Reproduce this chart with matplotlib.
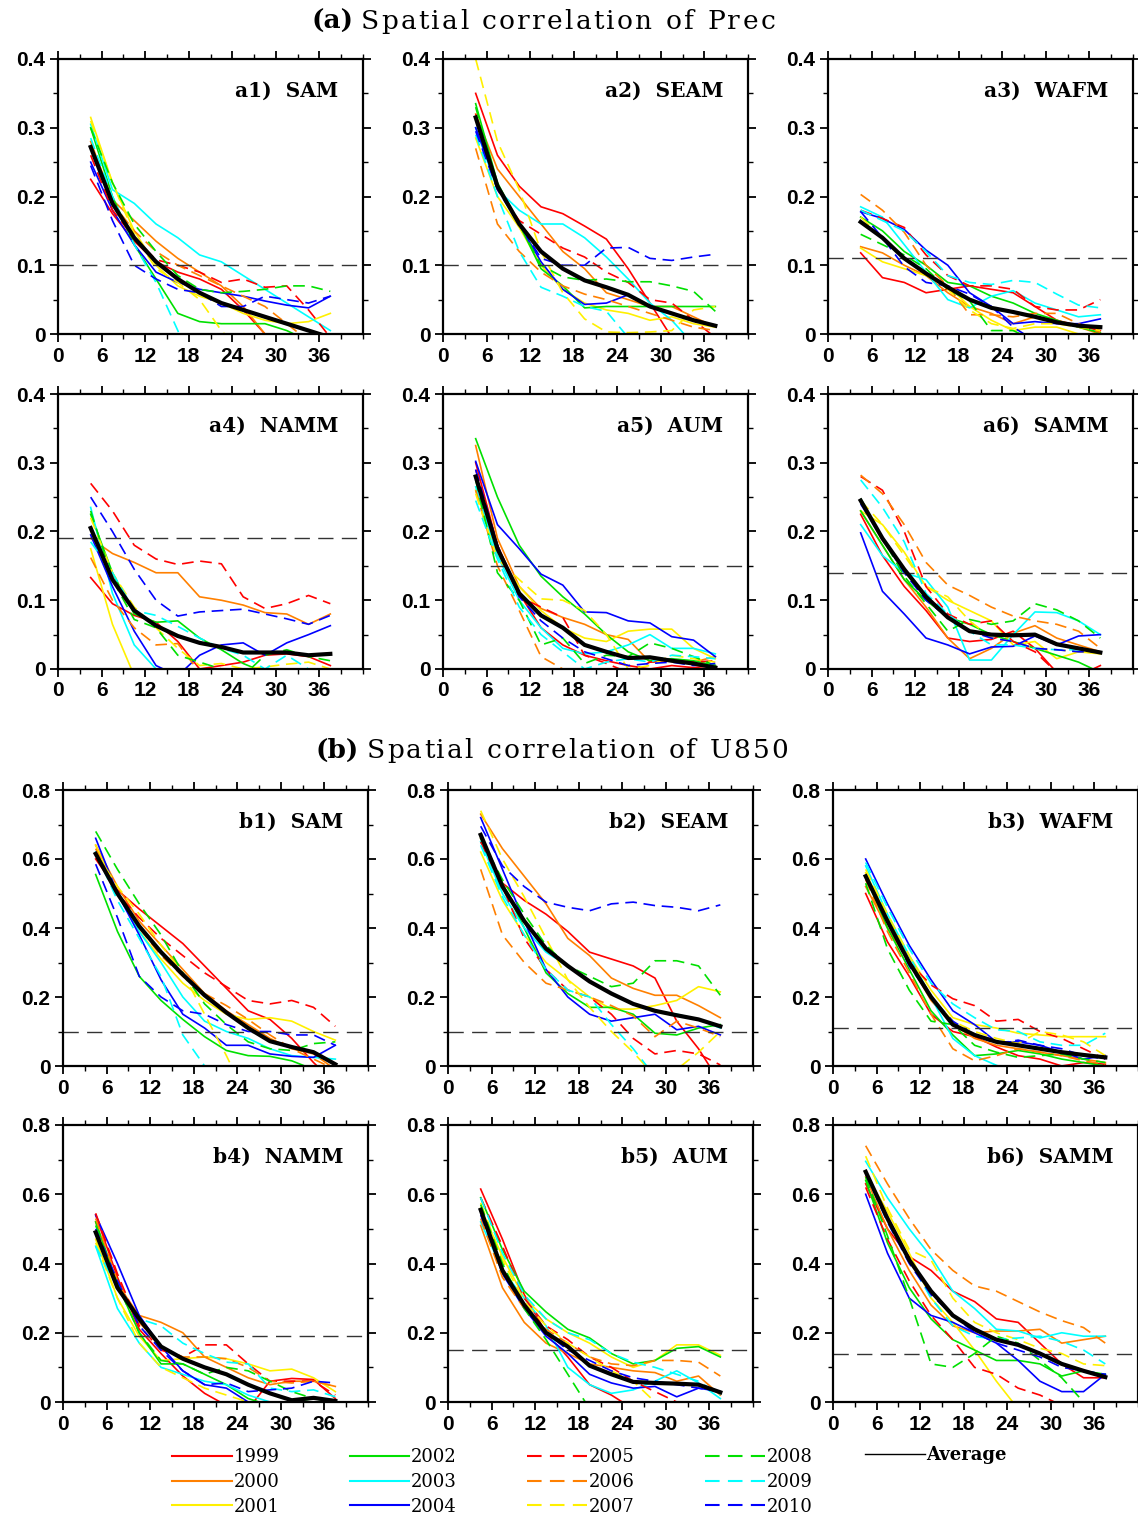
import numpy as np
import matplotlib
matplotlib.use('Agg')
import matplotlib.pyplot as plt
from matplotlib.lines import Line2D
from matplotlib.ticker import MultipleLocator

# lead time (days), same for every panel
lead = [4.5, 7.5, 10.5, 13.5, 16.5, 19.5, 22.5, 25.5, 28.5, 31.5, 34.5, 37.5]

years = ['1999', '2000', '2001', '2002', '2003', '2004',
         '2005', '2006', '2007', '2008', '2009', '2010']
colors = ['#ff0000', '#ff8000', '#fff000', '#00e000', '#00ffff', '#0000ff'] * 2
styles = ['-'] * 6 + ['--'] * 6

# ---- (a) precipitation, rows in the order of `years` ----
prec_sam = [
    [0.225, 0.175, 0.135, 0.105, 0.09, 0.08, 0.065, 0.035, 0.0, -0.02, -0.04, -0.06],
    [0.28, 0.195, 0.165, 0.135, 0.11, 0.09, 0.07, 0.04, 0.0, -0.02, -0.04, -0.05],
    [0.315, 0.22, 0.15, 0.1, 0.07, 0.055, 0.045, 0.03, 0.02, 0.015, 0.018, 0.03],
    [0.3, 0.2, 0.13, 0.08, 0.03, 0.018, 0.015, 0.015, 0.015, 0.005, -0.01, -0.02],
    [0.305, 0.21, 0.19, 0.16, 0.14, 0.115, 0.105, 0.085, 0.065, 0.045, 0.025, 0.005],
    [0.25, 0.18, 0.13, 0.09, 0.075, 0.065, 0.06, 0.055, 0.048, 0.042, 0.038, 0.055],
    [0.26, 0.18, 0.14, 0.108, 0.1, 0.09, 0.075, 0.08, 0.068, 0.07, 0.035, -0.005],
    [0.27, 0.19, 0.15, 0.12, 0.1, 0.085, 0.07, 0.055, 0.04, 0.015, -0.01, -0.03],
    [0.31, 0.22, 0.145, 0.095, 0.075, 0.05, 0.005, -0.03, -0.05, -0.06, -0.07, -0.08],
    [0.3, 0.22, 0.16, 0.12, 0.085, 0.065, 0.06, 0.062, 0.065, 0.07, 0.07, 0.062],
    [0.285, 0.2, 0.13, 0.075, 0.005, -0.07, -0.1, -0.1, -0.1, -0.1, -0.1, -0.1],
    [0.245, 0.165, 0.1, 0.08, 0.065, 0.06, 0.04, 0.04, 0.055, 0.05, 0.045, 0.055],
]
prec_sam_avg = [0.272, 0.19, 0.14, 0.105, 0.08, 0.06, 0.045, 0.035, 0.025, 0.015, 0.005, -0.005]

prec_seam = [
    [0.35, 0.26, 0.215, 0.185, 0.175, 0.157, 0.138, 0.095, 0.045, -0.005, -0.05, -0.08],
    [0.32, 0.24, 0.2, 0.16, 0.12, 0.095, 0.06, 0.05, 0.04, 0.04, 0.025, 0.01],
    [0.285, 0.2, 0.155, 0.1, 0.065, 0.045, 0.035, 0.03, 0.02, 0.025, 0.015, 0.01],
    [0.335, 0.22, 0.16, 0.095, 0.07, 0.038, 0.04, 0.04, 0.04, 0.04, 0.04, 0.04],
    [0.3, 0.21, 0.18, 0.16, 0.16, 0.14, 0.112, 0.08, 0.045, 0.02, -0.015, -0.03],
    [0.3, 0.215, 0.16, 0.105, 0.065, 0.043, 0.045, 0.057, 0.04, 0.03, 0.02, 0.012],
    [0.32, 0.21, 0.165, 0.145, 0.125, 0.112, 0.09, 0.075, 0.05, 0.045, 0.02, -0.005],
    [0.27, 0.16, 0.12, 0.09, 0.07, 0.058, 0.05, 0.04, 0.03, 0.02, 0.01, 0.005],
    [0.4, 0.28, 0.21, 0.12, 0.06, 0.022, 0.003, 0.002, 0.003, 0.005, 0.035, 0.04],
    [0.33, 0.215, 0.16, 0.1, 0.083, 0.078, 0.08, 0.076, 0.076, 0.07, 0.062, 0.033],
    [0.29, 0.2, 0.12, 0.068, 0.055, 0.04, 0.033, -0.005, -0.03, -0.04, -0.05, -0.05],
    [0.295, 0.21, 0.16, 0.11, 0.1, 0.1, 0.125, 0.126, 0.11, 0.107, 0.112, 0.116],
]
prec_seam_avg = [0.315, 0.215, 0.16, 0.12, 0.095, 0.078, 0.068, 0.057, 0.04, 0.03, 0.02, 0.012]

prec_wafm = [
    [0.118, 0.082, 0.075, 0.06, 0.065, 0.07, 0.065, 0.06, 0.04, 0.02, 0.012, 0.005],
    [0.127, 0.118, 0.1, 0.085, 0.06, 0.04, 0.03, 0.015, 0.025, 0.02, 0.01, 0.0],
    [0.125, 0.105, 0.095, 0.085, 0.07, 0.04, 0.02, 0.005, 0.01, 0.01, 0.0, -0.005],
    [0.17, 0.15, 0.12, 0.1, 0.075, 0.07, 0.055, 0.045, 0.03, 0.02, 0.01, 0.002],
    [0.185, 0.17, 0.13, 0.09, 0.05, 0.038, 0.055, 0.063, 0.045, 0.035, 0.025, 0.028],
    [0.178, 0.168, 0.152, 0.122, 0.1, 0.06, 0.04, 0.015, 0.018, 0.015, 0.015, 0.022],
    [0.18, 0.168, 0.155, 0.115, 0.085, 0.07, 0.07, 0.065, 0.04, 0.035, 0.035, 0.05],
    [0.203, 0.18, 0.148, 0.1, 0.07, 0.028, 0.028, 0.025, 0.03, 0.03, 0.015, 0.002],
    [0.17, 0.14, 0.11, 0.09, 0.065, 0.035, 0.015, 0.008, 0.015, 0.015, 0.01, 0.005],
    [0.145, 0.13, 0.115, 0.095, 0.065, 0.048, 0.005, 0.005, -0.01, -0.02, -0.02, -0.02],
    [0.18, 0.165, 0.15, 0.12, 0.085, 0.075, 0.072, 0.078, 0.075, 0.058, 0.042, 0.038],
    [0.178, 0.14, 0.098, 0.075, 0.07, 0.058, 0.04, 0.01, -0.01, -0.02, -0.02, -0.02],
]
prec_wafm_avg = [0.163, 0.14, 0.11, 0.088, 0.068, 0.05, 0.038, 0.032, 0.025, 0.017, 0.012, 0.01]

prec_namm = [
    [0.133, 0.095, 0.078, 0.068, 0.04, 0.0, 0.005, 0.01, 0.02, 0.022, 0.018, 0.005],
    [0.19, 0.168, 0.155, 0.14, 0.14, 0.105, 0.1, 0.093, 0.082, 0.08, 0.065, 0.08],
    [0.175, 0.065, -0.01, -0.05, -0.06, -0.06, -0.06, -0.06, -0.06, -0.06, -0.06, -0.06],
    [0.225, 0.14, 0.08, 0.068, 0.07, 0.045, 0.028, 0.008, -0.005, -0.01, -0.01, -0.01],
    [0.235, 0.11, 0.035, 0.0, -0.03, -0.04, -0.04, -0.04, -0.04, -0.04, -0.04, -0.04],
    [0.195, 0.12, 0.055, 0.005, -0.01, 0.02, 0.035, 0.038, 0.02, 0.038, 0.05, 0.063],
    [0.27, 0.23, 0.18, 0.16, 0.152, 0.157, 0.153, 0.105, 0.088, 0.095, 0.107, 0.095],
    [0.162, 0.1, 0.06, 0.035, 0.037, -0.005, -0.02, -0.02, -0.02, -0.02, -0.02, -0.02],
    [0.22, 0.14, 0.09, 0.06, 0.03, 0.005, 0.008, 0.0, 0.003, 0.007, 0.01, 0.0],
    [0.23, 0.13, 0.072, 0.06, 0.02, 0.01, 0.0, -0.01, 0.02, 0.028, 0.018, 0.012],
    [0.185, 0.14, 0.085, 0.078, 0.062, 0.045, 0.03, 0.02, 0.0, 0.02, 0.0, -0.01],
    [0.25, 0.2, 0.145, 0.1, 0.077, 0.083, 0.085, 0.087, 0.08, 0.073, 0.065, 0.078],
]
prec_namm_avg = [0.205, 0.13, 0.085, 0.063, 0.048, 0.038, 0.032, 0.024, 0.024, 0.024, 0.02, 0.022]

prec_aum = [
    [0.3, 0.18, 0.11, 0.06, 0.035, 0.02, 0.012, 0.005, 0.0, 0.005, 0.002, 0.005],
    [0.325, 0.19, 0.12, 0.088, 0.075, 0.065, 0.05, 0.043, 0.01, 0.012, 0.01, 0.018],
    [0.26, 0.165, 0.12, 0.085, 0.06, 0.045, 0.04, 0.055, 0.058, 0.058, 0.03, 0.015],
    [0.335, 0.25, 0.18, 0.135, 0.105, 0.08, 0.05, 0.025, 0.012, 0.015, 0.012, 0.005],
    [0.265, 0.165, 0.1, 0.06, 0.03, 0.022, 0.025, 0.035, 0.05, 0.03, 0.03, 0.022],
    [0.302, 0.21, 0.175, 0.138, 0.122, 0.083, 0.082, 0.07, 0.067, 0.047, 0.042, 0.018],
    [0.29, 0.18, 0.105, 0.09, 0.075, 0.02, 0.008, -0.005, 0.01, 0.012, 0.01, 0.012],
    [0.26, 0.15, 0.085, 0.018, 0.0, -0.02, -0.03, -0.03, -0.03, -0.03, -0.03, -0.03],
    [0.255, 0.16, 0.13, 0.102, 0.1, 0.085, 0.05, 0.0, 0.005, 0.02, 0.015, 0.01],
    [0.275, 0.14, 0.1, 0.035, 0.045, 0.008, 0.02, 0.018, 0.038, 0.03, 0.018, 0.005],
    [0.245, 0.16, 0.09, 0.05, 0.025, 0.0, 0.01, 0.015, 0.01, 0.02, 0.018, 0.015],
    [0.29, 0.18, 0.105, 0.07, 0.045, 0.025, 0.015, 0.005, 0.008, 0.01, 0.005, 0.008],
]
prec_aum_avg = [0.28, 0.175, 0.11, 0.078, 0.06, 0.035, 0.025, 0.016, 0.017, 0.012, 0.008, 0.002]

prec_samm = [
    [0.225, 0.165, 0.12, 0.085, 0.045, 0.04, 0.043, 0.055, 0.03, -0.005, -0.01, 0.005],
    [0.23, 0.18, 0.13, 0.09, 0.045, 0.015, 0.03, 0.052, 0.063, 0.045, 0.035, 0.025],
    [0.23, 0.21, 0.17, 0.12, 0.1, 0.085, 0.07, 0.035, 0.04, 0.015, 0.025, 0.022],
    [0.23, 0.18, 0.13, 0.1, 0.075, 0.065, 0.05, 0.04, 0.03, 0.02, 0.01, -0.005],
    [0.21, 0.165, 0.14, 0.13, 0.09, 0.013, 0.013, 0.05, 0.083, 0.082, 0.07, 0.05],
    [0.198, 0.113, 0.08, 0.045, 0.035, 0.022, 0.032, 0.033, 0.048, 0.035, 0.048, 0.05],
    [0.28, 0.26, 0.2, 0.12, 0.08, 0.065, 0.07, 0.04, 0.025, -0.005, -0.01, -0.01],
    [0.282, 0.255, 0.21, 0.155, 0.122, 0.107, 0.09, 0.077, 0.07, 0.065, 0.055, 0.03],
    [0.245, 0.21, 0.165, 0.12, 0.105, 0.07, 0.045, 0.04, 0.03, 0.028, 0.025, 0.025],
    [0.248, 0.19, 0.135, 0.095, 0.055, 0.072, 0.065, 0.07, 0.095, 0.086, 0.07, 0.045],
    [0.275, 0.235, 0.185, 0.11, 0.08, 0.055, 0.035, 0.035, 0.03, 0.028, 0.028, 0.025],
    [0.24, 0.19, 0.14, 0.1, 0.075, 0.055, 0.045, 0.04, 0.03, 0.028, 0.025, 0.025],
]
prec_samm_avg = [0.245, 0.19, 0.145, 0.105, 0.075, 0.055, 0.05, 0.049, 0.05, 0.036, 0.03, 0.024]

# ---- (b) U850 ----
u850_sam = [
    [0.6, 0.51, 0.455, 0.405, 0.355, 0.29, 0.225, 0.16, 0.135, 0.08, 0.01, -0.05],
    [0.64, 0.52, 0.42, 0.35, 0.28, 0.21, 0.16, 0.12, 0.08, 0.05, 0.035, -0.01],
    [0.64, 0.5, 0.39, 0.31, 0.24, 0.19, 0.15, 0.135, 0.14, 0.13, 0.1, 0.075],
    [0.555, 0.39, 0.26, 0.19, 0.135, 0.085, 0.045, 0.03, 0.028, 0.015, -0.01, -0.03],
    [0.62, 0.5, 0.39, 0.3, 0.2, 0.13, 0.1, 0.08, 0.05, 0.03, 0.025, 0.02],
    [0.66, 0.5, 0.38, 0.25, 0.15, 0.11, 0.06, 0.06, 0.035, 0.028, 0.025, 0.06],
    [0.62, 0.5, 0.43, 0.37, 0.32, 0.27, 0.23, 0.19, 0.18, 0.19, 0.17, 0.115],
    [0.63, 0.5, 0.4, 0.32, 0.26, 0.21, 0.175, 0.135, 0.09, 0.05, 0.02, -0.01],
    [0.62, 0.52, 0.44, 0.35, 0.27, 0.15, 0.03, -0.1, -0.1, -0.1, -0.1, -0.1],
    [0.68, 0.57, 0.47, 0.38, 0.27, 0.18, 0.12, 0.07, 0.05, 0.045, 0.065, 0.07],
    [0.62, 0.48, 0.37, 0.26, 0.09, 0.0, -0.08, -0.1, -0.1, -0.1, -0.1, -0.1],
    [0.585, 0.43, 0.26, 0.2, 0.16, 0.15, 0.12, 0.1, 0.1, 0.09, 0.09, 0.06],
]
u850_sam_avg = [0.615, 0.5, 0.405, 0.33, 0.265, 0.205, 0.155, 0.11, 0.072, 0.055, 0.04, 0.005]

u850_seam = [
    [0.66, 0.53, 0.48, 0.44, 0.39, 0.33, 0.31, 0.29, 0.255, 0.13, 0.05, -0.05],
    [0.73, 0.63, 0.55, 0.47, 0.37, 0.32, 0.255, 0.225, 0.205, 0.205, 0.175, 0.14],
    [0.62, 0.48, 0.38, 0.3, 0.25, 0.2, 0.165, 0.165, 0.175, 0.19, 0.23, 0.215],
    [0.66, 0.53, 0.4, 0.27, 0.21, 0.17, 0.17, 0.15, 0.095, 0.09, 0.11, 0.12],
    [0.65, 0.5, 0.4, 0.33, 0.29, 0.245, 0.21, 0.18, 0.16, 0.15, 0.135, 0.11],
    [0.72, 0.57, 0.42, 0.28, 0.2, 0.15, 0.13, 0.14, 0.15, 0.105, 0.115, 0.09],
    [0.65, 0.52, 0.37, 0.28, 0.22, 0.2, 0.15, 0.08, 0.035, 0.045, 0.035, 0.003],
    [0.57, 0.38, 0.3, 0.24, 0.22, 0.2, 0.175, 0.145, 0.085, 0.13, 0.11, 0.085],
    [0.74, 0.6, 0.49, 0.37, 0.25, 0.17, 0.1, 0.04, -0.03, -0.01, 0.04, 0.1],
    [0.66, 0.54, 0.44, 0.35, 0.29, 0.26, 0.23, 0.24, 0.305, 0.305, 0.29, 0.205],
    [0.64, 0.49, 0.38, 0.28, 0.22, 0.2, 0.12, 0.05, -0.03, -0.05, -0.05, -0.05],
    [0.695, 0.58, 0.52, 0.475, 0.46, 0.45, 0.47, 0.475, 0.465, 0.46, 0.45, 0.467],
]
u850_seam_avg = [0.67, 0.52, 0.42, 0.34, 0.29, 0.245, 0.21, 0.18, 0.16, 0.147, 0.135, 0.115]

u850_wafm = [
    [0.5, 0.36, 0.26, 0.15, 0.1, 0.085, 0.055, 0.03, 0.02, 0.0, 0.01, 0.005],
    [0.52, 0.4, 0.3, 0.19, 0.12, 0.08, 0.06, 0.05, 0.04, 0.03, 0.02, 0.01],
    [0.56, 0.43, 0.32, 0.22, 0.14, 0.12, 0.11, 0.095, 0.09, 0.085, 0.085, 0.085],
    [0.55, 0.4, 0.28, 0.16, 0.09, 0.03, 0.035, 0.045, 0.035, 0.02, 0.01, 0.0],
    [0.58, 0.44, 0.32, 0.2, 0.08, 0.03, 0.002, -0.02, -0.03, -0.03, -0.03, -0.03],
    [0.6, 0.47, 0.35, 0.25, 0.16, 0.12, 0.07, 0.07, 0.06, 0.04, 0.02, 0.03],
    [0.55, 0.42, 0.3, 0.235, 0.195, 0.175, 0.13, 0.135, 0.1, 0.08, 0.05, 0.02],
    [0.54, 0.39, 0.27, 0.15, 0.05, 0.015, 0.03, 0.05, 0.04, 0.03, 0.015, 0.005],
    [0.57, 0.44, 0.32, 0.2, 0.13, 0.1, 0.08, 0.065, 0.1, 0.09, 0.07, 0.03],
    [0.53, 0.34, 0.22, 0.13, 0.12, 0.06, 0.04, 0.025, 0.03, 0.035, 0.02, 0.01],
    [0.59, 0.46, 0.34, 0.24, 0.18, 0.14, 0.105, 0.1, 0.07, 0.06, 0.06, 0.095],
    [0.55, 0.42, 0.29, 0.2, 0.13, 0.09, 0.065, 0.075, 0.06, 0.05, 0.03, 0.02],
]
u850_wafm_avg = [0.55, 0.42, 0.3, 0.2, 0.12, 0.09, 0.07, 0.06, 0.05, 0.04, 0.032, 0.025]

u850_namm = [
    [0.54, 0.36, 0.21, 0.14, 0.075, 0.025, -0.01, -0.02, 0.06, 0.068, 0.065, 0.01],
    [0.52, 0.34, 0.25, 0.23, 0.2, 0.13, 0.1, 0.07, 0.05, 0.06, 0.06, 0.045],
    [0.47, 0.3, 0.19, 0.12, 0.125, 0.13, 0.125, 0.11, 0.09, 0.095, 0.07, 0.03],
    [0.52, 0.34, 0.2, 0.11, 0.11, 0.08, 0.05, 0.01, -0.01, 0.0, 0.01, 0.0],
    [0.45, 0.27, 0.17, 0.1, 0.08, 0.06, 0.05, 0.02, 0.0, -0.01, -0.01, -0.01],
    [0.54, 0.4, 0.25, 0.16, 0.09, 0.05, 0.04, 0.0, -0.01, -0.02, -0.02, -0.02],
    [0.545, 0.37, 0.22, 0.15, 0.13, 0.165, 0.165, 0.11, 0.06, 0.06, 0.06, 0.02],
    [0.53, 0.35, 0.23, 0.16, 0.13, 0.13, 0.125, 0.1, 0.06, 0.055, 0.06, 0.045],
    [0.46, 0.3, 0.17, 0.1, 0.07, 0.04, 0.02, 0.0, -0.01, -0.02, -0.02, -0.02],
    [0.51, 0.34, 0.2, 0.12, 0.11, 0.08, 0.1, 0.09, 0.06, 0.03, 0.01, 0.005],
    [0.45, 0.33, 0.24, 0.22, 0.17, 0.14, 0.115, 0.11, 0.04, 0.03, 0.035, 0.015],
    [0.5, 0.35, 0.22, 0.15, 0.09, 0.05, 0.055, 0.03, 0.035, 0.04, 0.06, 0.055],
]
u850_namm_avg = [0.49, 0.33, 0.24, 0.16, 0.125, 0.1, 0.08, 0.05, 0.025, 0.005, 0.012, 0.003]

u850_aum = [
    [0.615, 0.47, 0.31, 0.2, 0.13, 0.05, 0.02, -0.02, -0.04, -0.05, -0.05, -0.05],
    [0.51, 0.33, 0.23, 0.17, 0.14, 0.11, 0.1, 0.09, 0.085, 0.06, 0.075, 0.02],
    [0.56, 0.42, 0.3, 0.24, 0.2, 0.17, 0.13, 0.1, 0.12, 0.165, 0.165, 0.135],
    [0.59, 0.44, 0.32, 0.26, 0.21, 0.185, 0.14, 0.11, 0.12, 0.155, 0.16, 0.13],
    [0.52, 0.38, 0.3, 0.22, 0.1, 0.05, 0.025, 0.035, 0.06, 0.09, 0.055, 0.01],
    [0.55, 0.37, 0.27, 0.19, 0.14, 0.08, 0.055, 0.04, 0.045, 0.015, 0.04, 0.03],
    [0.59, 0.45, 0.3, 0.22, 0.18, 0.13, 0.1, 0.06, 0.03, 0.0, -0.02, -0.03],
    [0.53, 0.36, 0.27, 0.21, 0.17, 0.13, 0.11, 0.105, 0.12, 0.12, 0.115, 0.075],
    [0.575, 0.41, 0.29, 0.22, 0.17, 0.13, 0.09, 0.06, 0.0, -0.03, -0.04, -0.04],
    [0.57, 0.4, 0.27, 0.18, 0.08, -0.02, -0.06, -0.06, -0.06, -0.06, -0.06, -0.06],
    [0.59, 0.43, 0.31, 0.24, 0.2, 0.18, 0.14, 0.115, 0.1, 0.08, 0.06, 0.02],
    [0.54, 0.38, 0.28, 0.2, 0.15, 0.12, 0.09, 0.07, 0.06, 0.05, 0.04, 0.03],
]
u850_aum_avg = [0.555, 0.38, 0.28, 0.2, 0.16, 0.105, 0.08, 0.058, 0.055, 0.053, 0.05, 0.028]

u850_samm = [
    [0.63, 0.5, 0.42, 0.38, 0.32, 0.29, 0.24, 0.23, 0.17, 0.11, 0.07, 0.07],
    [0.65, 0.5, 0.38, 0.28, 0.22, 0.2, 0.205, 0.205, 0.21, 0.17, 0.18, 0.19],
    [0.66, 0.55, 0.43, 0.3, 0.23, 0.15, 0.06, -0.02, -0.04, -0.04, -0.04, -0.04],
    [0.64, 0.46, 0.33, 0.24, 0.18, 0.15, 0.12, 0.12, 0.11, 0.075, 0.09, 0.08],
    [0.695, 0.59, 0.5, 0.42, 0.32, 0.27, 0.21, 0.205, 0.185, 0.2, 0.19, 0.19],
    [0.6, 0.43, 0.3, 0.25, 0.23, 0.2, 0.17, 0.12, 0.06, 0.03, 0.03, 0.08],
    [0.62, 0.47, 0.35, 0.25, 0.18, 0.1, 0.08, 0.04, 0.02, -0.01, -0.02, -0.02],
    [0.74, 0.63, 0.53, 0.44, 0.38, 0.335, 0.32, 0.29, 0.26, 0.235, 0.215, 0.17],
    [0.71, 0.56, 0.44, 0.41, 0.3, 0.23, 0.2, 0.18, 0.155, 0.14, 0.11, 0.105],
    [0.65, 0.48, 0.3, 0.11, 0.1, 0.14, 0.19, 0.17, 0.12, 0.07, 0.0, -0.02],
    [0.66, 0.52, 0.41, 0.3, 0.22, 0.19, 0.18, 0.185, 0.19, 0.175, 0.15, 0.11],
    [0.66, 0.52, 0.4, 0.31, 0.25, 0.2, 0.17, 0.15, 0.13, 0.1, 0.09, 0.08],
]
u850_samm_avg = [0.665, 0.53, 0.41, 0.32, 0.25, 0.21, 0.18, 0.165, 0.14, 0.11, 0.09, 0.072]

# significance level per region
thresh = [0.1, 0.1, 0.11, 0.19, 0.15, 0.14]
regions = ['SAM', 'SEAM', 'WAFM', 'NAMM', 'AUM', 'SAMM']

prec_sets = [(prec_sam, prec_sam_avg), (prec_seam, prec_seam_avg), (prec_wafm, prec_wafm_avg),
             (prec_namm, prec_namm_avg), (prec_aum, prec_aum_avg), (prec_samm, prec_samm_avg)]
u850_sets = [(u850_sam, u850_sam_avg), (u850_seam, u850_seam_avg), (u850_wafm, u850_wafm_avg),
             (u850_namm, u850_namm_avg), (u850_aum, u850_aum_avg), (u850_samm, u850_samm_avg)]

W, H = 1138., 1515.
fig = plt.figure(figsize=(W / 100, H / 100), dpi=100)
renderer = fig.canvas.get_renderer()

tickfont = dict(family='Liberation Sans', weight='bold', size=15)


def make_panel(rect, series, avg, th, label, ymax, ymaj):
    ax = fig.add_axes(rect)
    for row, c, ls in zip(series, colors, styles):
        if ls == '--':
            ax.plot(lead, row, color=c, lw=1.2, dashes=(7, 4))
        else:
            ax.plot(lead, row, color=c, lw=1.2)
    ax.axhline(th, color='#333333', lw=1.0, dashes=(11, 6))
    ax.plot(lead, avg, color='black', lw=3)
    ax.set_xlim(0, 42)
    ax.set_ylim(0, ymax)
    ax.xaxis.set_major_locator(MultipleLocator(6))
    ax.xaxis.set_minor_locator(MultipleLocator(3))
    ax.yaxis.set_major_locator(MultipleLocator(ymaj))
    ax.yaxis.set_minor_locator(MultipleLocator(ymaj / 2))
    ax.set_xticks(np.arange(0, 37, 6))
    ax.set_xticklabels([str(v) for v in range(0, 37, 6)], fontdict=tickfont)
    yt = np.arange(0, ymax + 1e-9, ymaj)
    ax.set_yticks(yt)
    ax.set_yticklabels(['0'] + ['%.1f' % v for v in yt[1:]], fontdict=tickfont)
    ax.tick_params(which='both', direction='out', top=True, right=True)
    ax.tick_params(which='major', length=6, width=1.3, pad=3)
    ax.tick_params(which='minor', length=3.5, width=1.0)
    for s in ax.spines.values():
        s.set_linewidth(1.6)
    ax.text(0.92, 0.885, label, transform=ax.transAxes, ha='right', va='center',
            family='DejaVu Serif', weight='bold', fontsize=14.5)
    return ax


def spaced_text(x_px, y_px, s, width_px, **kw):
    # letter-spaced text so it spans width_px, like the wide NCL title font
    pieces = []
    for ch in s:
        t = fig.text(0, 0, ch if ch != ' ' else 'n', **kw)
        w = t.get_window_extent(renderer=renderer).width
        t.remove()
        pieces.append((ch, w * (0.55 if ch == ' ' else 1.0)))
    natural = sum(w for _, w in pieces)
    gap = max((width_px - natural) / max(len(s) - 1, 1), 0)
    x = x_px
    for ch, w in pieces:
        if ch != ' ':
            fig.text(x / W, 1 - y_px / H, ch, ha='left', va='baseline', **kw)
        x += w + gap


a_lefts = [58, 443, 828]
b_lefts = [63, 448, 833]
a_rows = [(59, 334), (394, 669)]
b_rows = [(790, 1066), (1125, 1402)]

for k in range(6):
    r, c = divmod(k, 3)
    top, bot = a_rows[r]
    rect = [a_lefts[c] / W, 1 - bot / H, 305 / W, (bot - top) / H]
    make_panel(rect, prec_sets[k][0], prec_sets[k][1], thresh[k],
               'a%d)  %s' % (k + 1, regions[k]), 0.4, 0.1)
    top, bot = b_rows[r]
    rect = [b_lefts[c] / W, 1 - bot / H, 305 / W, (bot - top) / H]
    make_panel(rect, u850_sets[k][0], u850_sets[k][1], thresh[k],
               'b%d)  %s' % (k + 1, regions[k]), 0.8, 0.2)

# section titles
titlefont = dict(family='DejaVu Serif', fontsize=19)
fig.text(353 / W, 1 - 29 / H, '(a)', ha='right', va='baseline', weight='bold', **titlefont)
spaced_text(361, 29, 'Spatial correlation of Prec', 414, **titlefont)
fig.text(359 / W, 1 - 758 / H, '(b)', ha='right', va='baseline', weight='bold', **titlefont)
spaced_text(367, 758, 'Spatial correlation of U850', 421, **titlefont)

# legend
handles = []
for c, ls in zip(colors, styles):
    if ls == '--':
        handles.append(Line2D([], [], color=c, lw=1.5, dashes=(7, 4)))
    else:
        handles.append(Line2D([], [], color=c, lw=1.5))
fig.legend(handles, years, loc='upper left', bbox_to_anchor=(172 / W, 1 - 1448 / H),
           ncol=4, frameon=False, handlelength=3.3, handletextpad=0.1,
           columnspacing=3.9, labelspacing=0.38, borderpad=0, borderaxespad=0,
           prop=dict(family='DejaVu Serif', size=13))
avg_h = [Line2D([], [], color='black', lw=1.0)]
fig.legend(avg_h, ['Average'], loc='upper left', bbox_to_anchor=(865 / W, 1 - 1446 / H),
           frameon=False, handlelength=3.3, handletextpad=0.1, borderpad=0, borderaxespad=0,
           prop=dict(family='DejaVu Serif', size=13, weight='bold'))

fig.savefig('out.png', dpi=100)
